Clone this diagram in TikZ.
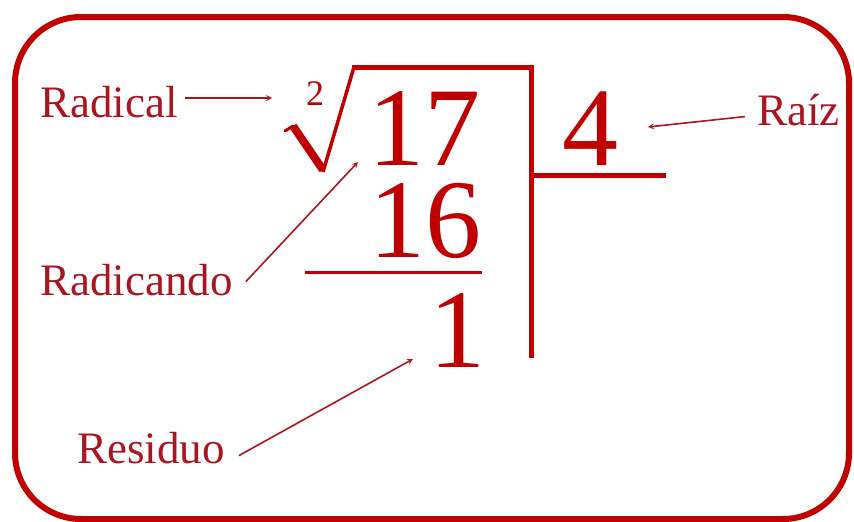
\documentclass[tikz,border=0pt]{standalone}
\usepackage{fontspec}
\setmainfont{Liberation Serif}
\usepackage{tikz}
\usetikzlibrary{positioning}
\usepackage{xcolor}
\definecolor{mainred}{RGB}{192,0,0}
\definecolor{labelred}{RGB}{170,22,32}

\begin{document}
\begin{tikzpicture}[
    x=1pt, y=-1pt,
    frame/.style={draw=mainred, line width=6pt, rounded corners=66pt},
    digit/.style={
      inner sep=0pt, anchor=base, text=mainred,
      font=\fontsize{112}{118}\selectfont
    },
    index/.style={
      inner sep=0pt, anchor=base, text=mainred,
      font=\fontsize{36}{40}\selectfont
    },
    label/.style={
      inner sep=0pt, anchor=base west, text=labelred,
      font=\fontsize{45}{50}\selectfont
    },
    bar/.style={draw=mainred, line width=5pt},
    thinbar/.style={draw=mainred, line width=3pt},
    arrow/.style={->, >=stealth, draw=labelred, line width=1.6pt},
  ]
  \useasboundingbox (0,0) rectangle (854,522);

  %% Frame
  \draw[frame] (15,17) rectangle (849,519);

  %% Radical sign and bracket
  \draw[draw=mainred, line width=3pt, line cap=round] (285,131) -- (293,126);
  \draw[draw=mainred, line width=8pt] (293,126) -- (323,170);
  \draw[draw=mainred, line width=3.5pt] (323,172) -- (354,67);
  \draw[bar] (352,67) -- (531,67) -- (531,358);
  \draw[bar] (531,175) -- (666,175);
  \draw[thinbar] (305,272) -- (482,272);

  %% Numbers
  \node[index] (idx) at (315,105) {2};
  \node[digit] (n17) at (424,165) {17};
  \node[digit] (n16) at (425,257) {16};
  \node[digit] (n1) at (457,367) {1};
  \node[digit] (n4) at (590,165) {4};

  %% Labels
  \node[label] (lrad) at (40,117) {Radical};
  \node[label] (lrdo) at (40,295) {Radicando};
  \node[label] (lres) at (77,463) {Residuo};
  \node[label] (lraiz) at (757,125) {Raíz};

  %% Arrow tips
  \coordinate (radT) at (272,98);
  \coordinate (rdoT) at (358,162);
  \coordinate (raizT) at (648,127);
  \coordinate (resT) at (413,359);

  %% Arrows
  \draw[arrow] ([xshift=7pt]lrad.east |- radT) -- (radT);
  \draw[arrow] ([xshift=13pt,yshift=-2pt]lrdo.east) -- (rdoT);
  \draw[arrow] ([xshift=-12pt,yshift=-7pt]lraiz.west) -- (raizT);
  \draw[arrow] ([xshift=14pt,yshift=-8pt]lres.east) -- (resT);

\end{tikzpicture}
\end{document}
